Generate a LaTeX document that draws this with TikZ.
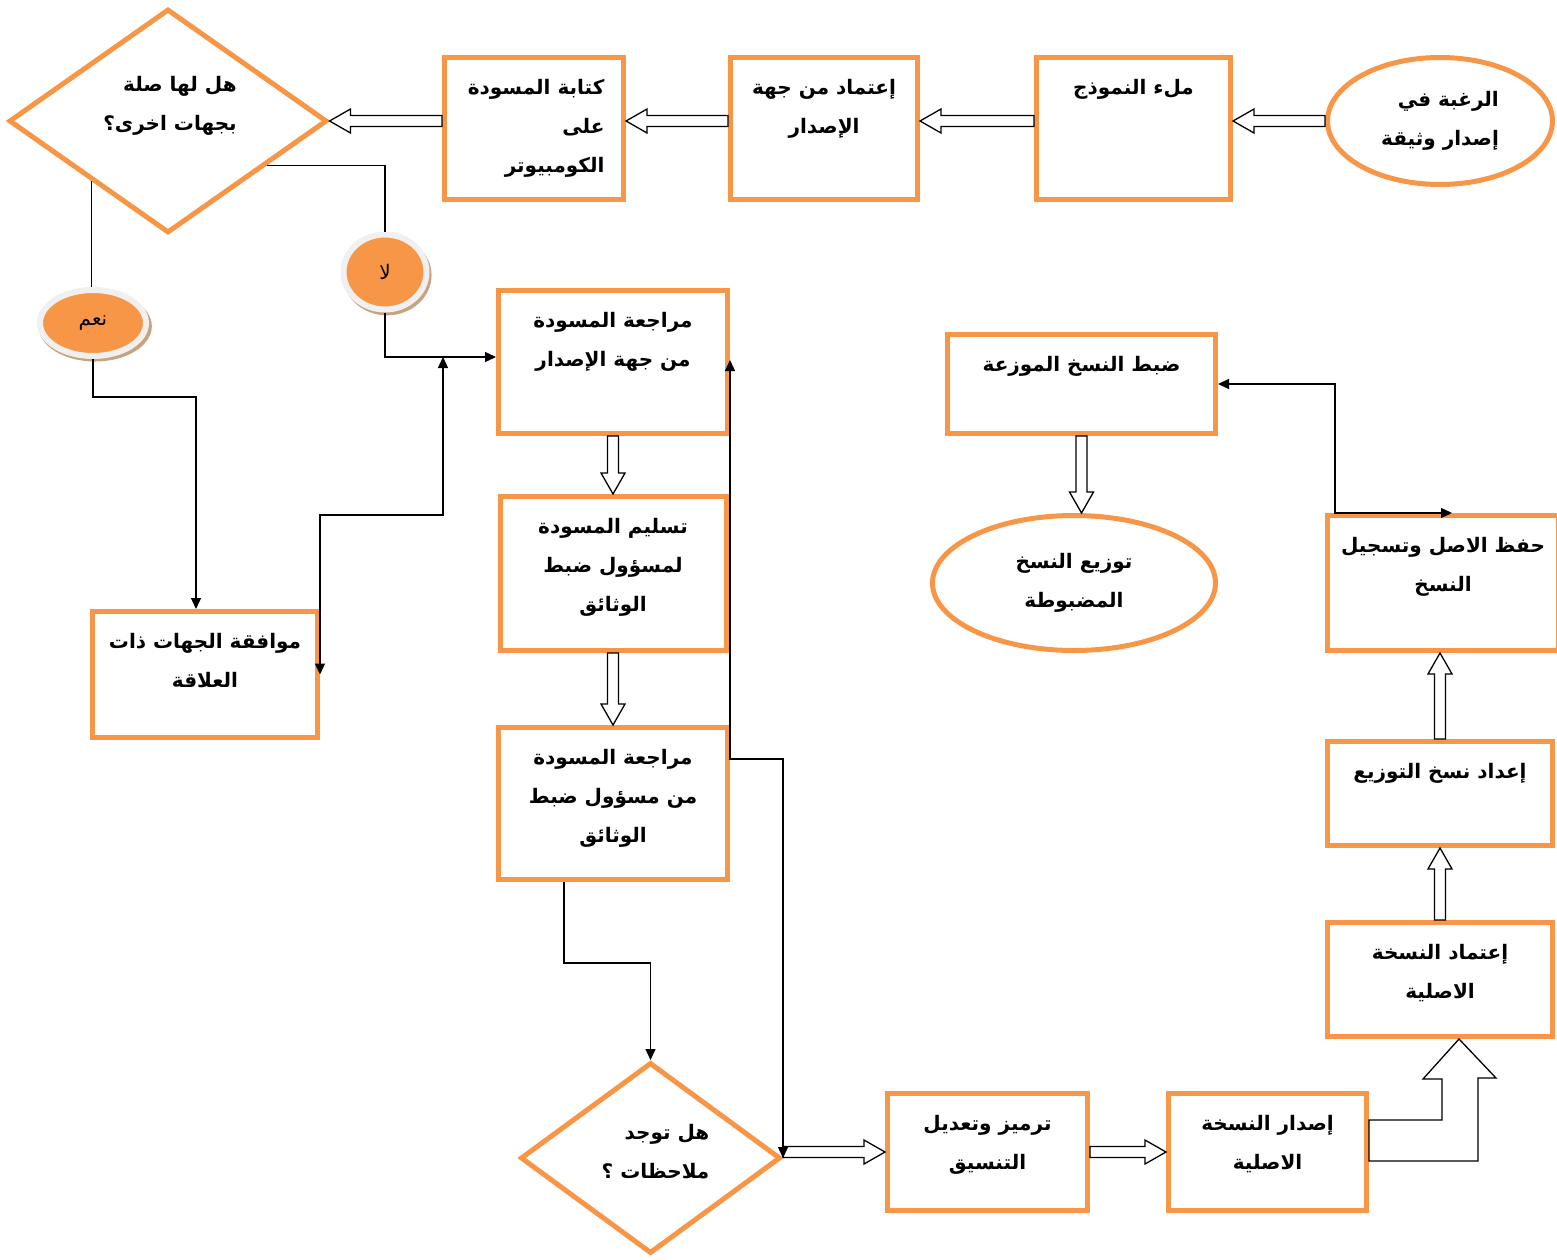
\documentclass[tikz,border=0pt]{standalone}
\usepackage{fontspec}
\newfontfamily\arfont[Script=Arabic]{DejaVu Sans}
\TeXXeTstate=1
\usetikzlibrary{calc}
\usetikzlibrary{positioning}
\usetikzlibrary{shapes.geometric}
\usetikzlibrary{shadows}
\usetikzlibrary{arrows.meta}
\definecolor{orng}{HTML}{F79646}
\definecolor{rim}{HTML}{C9A27F}
\newcommand\boxtxt[4][\centering]{\parbox[c][#3pt][t]{#2pt}{#1\rule{0pt}{37pt}#4}}
% hollow block arrow from #1 to #2
\newcommand\hollowarrow[2]{%
  \coordinate (hb) at ($(#2)!21pt!(#1)$);
  \draw[hollowline] ($(#1)!5.5pt!90:(#2)$) -- ($(hb)!5.5pt!90:(#2)$) -- ($(hb)!12pt!90:(#2)$)
    -- (#2) -- ($(hb)!12pt!-90:(#2)$) -- ($(hb)!5.5pt!-90:(#2)$) -- ($(#1)!5.5pt!-90:(#2)$) -- cycle;}

\begin{document}
\begin{tikzpicture}[x=1pt,y=-1pt,
  txt/.style={font=\arfont\bfseries\fontsize{20}{39}\selectfont},
  proc/.style={txt,draw=orng,line width=5pt,rectangle,inner sep=0pt},
  oval/.style={txt,draw=orng,line width=5pt,ellipse,inner sep=0pt,align=center},
  decide/.style={draw=orng,line width=5pt,diamond,inner sep=0pt},
  answer/.style={ellipse,fill=orng,draw=gray!12,line width=6pt,inner sep=0pt,
    font=\arfont\fontsize{20}{24}\selectfont,
    drop shadow={shadow xshift=2pt,shadow yshift=-3pt,shadow scale=1.07,fill=rim,opacity=1}},
  link/.style={line width=1.3pt,-{Triangle[length=11pt,width=10pt]}},
  both/.style={line width=1.3pt,{Triangle[length=11pt,width=10pt]}-{Triangle[length=11pt,width=10pt]}},
  hollowline/.style={draw=black,line width=1.3pt,fill=white,line join=miter}]
\useasboundingbox (0,0) rectangle (1557,1260);

% top row
\node[oval,minimum width=225pt,minimum height=127pt,align=right] (want) at (1440,121) {\beginR الرغبة في\endR\\\beginR إصدار وثيقة\endR};
\node[proc] (fill) at (1133.5,128.5) {\boxtxt{194}{142}{\beginR ملء النموذج\endR}};
\node[proc] (apprIss) at (824,128.5) {\boxtxt{187}{142}{\beginR إعتماد من جهة\endR\\\beginR الإصدار\endR}};
\node[proc] (write) at (534,128.5) {\boxtxt[\raggedleft\rightskip=19pt]{179}{142}{\beginR كتابة المسودة\endR\\\beginR على\endR\\\beginR الكومبيوتر\endR}};
\node[decide,minimum width=318pt,minimum height=224pt,
  label={[txt,align=right,xshift=2pt,yshift=15pt]center:{\beginR هل لها صلة\endR\\\beginR بجهات اخرى؟\endR}}] (ask) at (168,121) {};

% answers
\node[answer,minimum width=106pt,minimum height=66pt] (yes) at (93,323) {\beginR نعم\endR};
\node[answer,minimum width=83pt,minimum height=75pt] (no) at (385,272) {\beginR لا\endR};
\node[proc] (agree) at (205,674.5) {\boxtxt{225}{126}{\beginR موافقة الجهات ذات\endR\\\beginR العلاقة\endR}};

% middle column
\node[proc] (rev1) at (613,362) {\boxtxt{229}{143}{\beginR مراجعة المسودة\endR\\\beginR من جهة الإصدار\endR}};
\node[proc,below=58pt of rev1] (deliver) {\boxtxt{226}{154}{\beginR تسليم المسودة\endR\\\beginR لمسؤول ضبط\endR\\\beginR الوثائق\endR}};
\node[proc,below=72pt of deliver] (rev2) {\boxtxt{229}{152}{\beginR مراجعة المسودة\endR\\\beginR من مسؤول ضبط\endR\\\beginR الوثائق\endR}};
\node[decide,minimum width=260pt,minimum height=191pt,
  label={[txt,align=right,xshift=5pt,yshift=6pt]center:{\beginR هل توجد\endR\\\beginR ملاحظات ؟\endR}}] (notes) at (650.5,1158) {};

% bottom row
\node[proc] (code) at (987.5,1152) {\boxtxt{200}{117}{\beginR ترميز وتعديل\endR\\\beginR التنسيق\endR}};
\node[proc,right=76pt of code] (issue) {\boxtxt{198}{117}{\beginR إصدار النسخة\endR\\\beginR الاصلية\endR}};

% right column
\node[proc] (approve) at (1440,979.5) {\boxtxt{225}{114}{\beginR إعتماد النسخة\endR\\\beginR الاصلية\endR}};
\node[proc,above=72pt of approve] (prep) {\boxtxt{225}{104}{\beginR إعداد نسخ التوزيع\endR}};
\node[proc] (keep) at (1443,583) {\boxtxt{231}{135}{\beginR حفظ الاصل وتسجيل\endR\\\beginR النسخ\endR}};
\node[proc] (control) at (1081.5,384) {\boxtxt{268}{99}{\beginR ضبط النسخ الموزعة\endR}};
\node[oval,minimum width=283pt,minimum height=135pt] (distribute) at (1074,583) {\beginR توزيع النسخ\endR\\\beginR المضبوطة\endR};

% hollow arrows
\hollowarrow{want.west}{want.west-|fill.east}
\hollowarrow{fill.west|-want.west}{want.west-|apprIss.east}
\hollowarrow{apprIss.west|-want.west}{want.west-|write.east}
\hollowarrow{write.west|-want.west}{ask.east}
\hollowarrow{rev1.south}{deliver.north}
\hollowarrow{deliver.south}{rev2.north}
\hollowarrow{control.south}{control.south|-distribute.north}
\hollowarrow{code.west-|notes.east}{code.west}
\hollowarrow{code.east}{issue.west}
\hollowarrow{approve.north}{prep.south}
\hollowarrow{prep.north}{prep.north|-keep.south}
\draw[hollowline] ($(issue.east)+(0,-32)$) -| ++(73,-41) -- ++(-19,0) -- ($(approve.south)+(19,0)$)
  -- ++(37,39) -- ++(-18,0) |- ($(issue.east)+(0,9)$) -- cycle;

% thin connectors
\draw[line width=1.3pt] (ask.-142) -- (ask.-142|-yes.north);
\draw[link] (yes.south) -- ++(0,38) -| ($(agree.north)+(-9,0)$);
\draw[line width=1.3pt] (ask.-24) -| (no.north);
\draw[link] (no.south) |- ($(rev1.west)+(0,-5)$);
\coordinate (join) at ($(rev1.west)+(-53,-5)$);
\draw[both] (agree.east) |- ($(join)+(0,158)$) -- (join);
\draw[link] ($(rev2.south)+(-49,0)$) -- ++(0,81) -| (notes.north);
\draw[both] (notes.east) -- ++(0,-399) -| ($(rev1.east)+(0,-2)$);
\draw[both] ($(keep.north)+(9,0)$) -- ++(-117,0) |- (control.east);

\end{tikzpicture}
\end{document}
